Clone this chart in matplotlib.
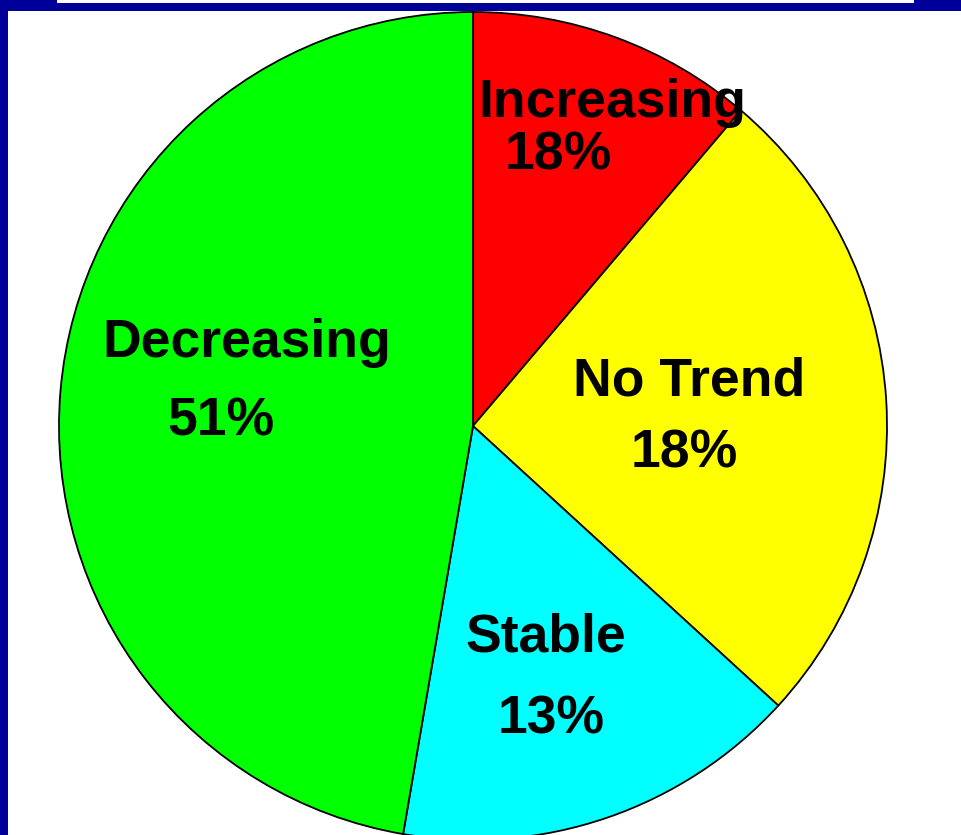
import matplotlib.pyplot as plt
from matplotlib.patches import Rectangle

# slice sizes (percent of the circle)
categories = ["Increasing", "No Trend", "Stable", "Decreasing"]
shares = [11.2, 25.6, 15.9, 47.3]
colors = ["#ff0000", "#ffff00", "#00ffff", "#00ff00"]
pct_labels = ["18%", "18%", "13%", "51%"]

W, H = 961, 835
fig = plt.figure(figsize=(W / 100, H / 100), dpi=100)
fig.patch.set_facecolor("white")

# pie centre (473, 426) px, radius 414 px
cx, cy, r = 473, 426, 414
ax = fig.add_axes([(cx - r) / W, (H - cy - r) / H, 2 * r / W, 2 * r / H])
ax.pie(shares, colors=colors, startangle=90, counterclock=False,
       wedgeprops=dict(edgecolor="black", linewidth=1.3))
ax.set_xlim(-1, 1)
ax.set_ylim(-1, 1)
ax.set_aspect("auto")
ax.axis("off")

def px(x, y):
    return (x - cx) / r, (cy - y) / r

# label anchors in pixels: (x centre, baseline) for name and percent
label_pos = [((612, 117), (558, 170)),
             ((689, 395), (684, 468)),
             ((546, 652), (551, 733)),
             ((247, 357), (221, 435))]

font = dict(family=["Liberation Sans", "DejaVu Sans"], fontweight="bold",
            fontsize=38.5, ha="center", va="baseline", color="black")
for name, pct, (p1, p2) in zip(categories, pct_labels, label_pos):
    ax.text(*px(*p1), name, **font)
    ax.text(*px(*p2), pct, **font)

# dark blue frame pieces
blue = "#000099"
fig.patches.append(Rectangle((0, 1 - 11 / H), 1, 11 / H, transform=fig.transFigure,
                             facecolor=blue, edgecolor="none", zorder=10))
fig.patches.append(Rectangle((57 / W, 1 - 3 / H), (914 - 57) / W, 3 / H,
                             transform=fig.transFigure, facecolor="white",
                             edgecolor="none", zorder=11))
fig.patches.append(Rectangle((0, 0), 8 / W, 1, transform=fig.transFigure,
                             facecolor=blue, edgecolor="none", zorder=10))

fig.savefig("out.png", dpi=100)
